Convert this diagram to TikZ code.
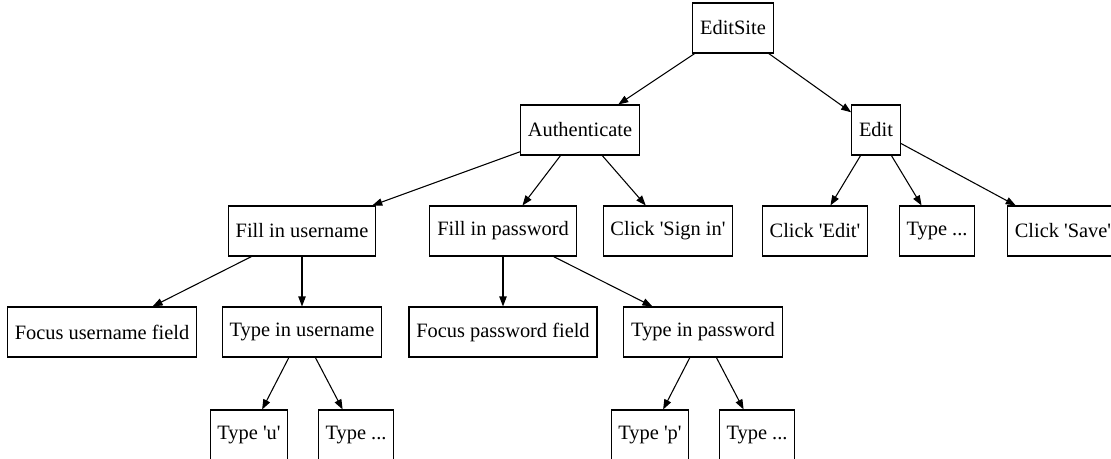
\documentclass[tikz,border=0pt]{standalone}
\usepackage{fontspec}
\setmainfont{Liberation Serif}[Ligatures=TeXOff]
\usetikzlibrary{arrows.meta}

\tikzset{
	task/.style={draw, line width=0.8pt, rectangle, minimum height=37.5pt,
		inner xsep=5.5pt, font=\fontsize{15.3}{17}\selectfont},
	edge/.style={line width=0.8pt, -{Triangle[length=7.5pt,width=5.5pt]}}
}

\begin{document}
\begin{tikzpicture}[x=0.75pt, y=-0.75pt]
		\useasboundingbox (0,0) rectangle (1111,458);
		\clip (0,0) rectangle (1111,458);

		\node[task] (site)  at ( 733,  28) {EditSite};

		\node[task] (auth)  at ( 580, 130) {Authenticate};
		\node[task] (edit)  at ( 876, 130) {Edit};

		\node[task] (fillu) at ( 302, 231) {Fill in username};
		\node[task] (fillp) at ( 503, 231) {Fill in password};
		\node[task] (signin) at ( 668, 231) {Click 'Sign in'};
		\node[task] (clicke) at ( 815, 231) {Click 'Edit'};
		\node[task] (typee) at ( 937, 231) {Type ...};
		\node[task] (clicks) at (1063, 231) {Click 'Save'};

		\node[task] (focusu) at ( 102, 332) {Focus username field};
		\node[task] (typeu)  at ( 302, 332) {Type in username};
		\node[task] (focusp) at ( 503, 332) {Focus password field};
		\node[task] (typep)  at ( 703, 332) {Type in password};

		\node[task] (ku)    at ( 249, 435) {Type 'u'};
		\node[task] (kudot) at ( 356, 435) {Type ...};
		\node[task] (kp)    at ( 650, 435) {Type 'p'};
		\node[task] (kpdot) at ( 757, 435) {Type ...};

		\draw[edge] (site) -- (auth);
		\draw[edge] (site) -- (edit);

		\draw[edge] (auth) -- (fillu);
		\draw[edge] (auth) -- (fillp);
		\draw[edge] (auth) -- (signin);

		\draw[edge] (edit) -- (clicke);
		\draw[edge] (edit) -- (typee);
		\draw[edge] (edit) -- (clicks);

		\draw[edge] (fillu) -- (focusu);
		\draw[edge] (fillu) -- (typeu);
		\draw[edge] (fillp) -- (focusp);
		\draw[edge] (fillp) -- (typep);

		\draw[edge] (typeu) -- (ku);
		\draw[edge] (typeu) -- (kudot);
		\draw[edge] (typep) -- (kp);
		\draw[edge] (typep) -- (kpdot);

	\end{tikzpicture}
\end{document}
